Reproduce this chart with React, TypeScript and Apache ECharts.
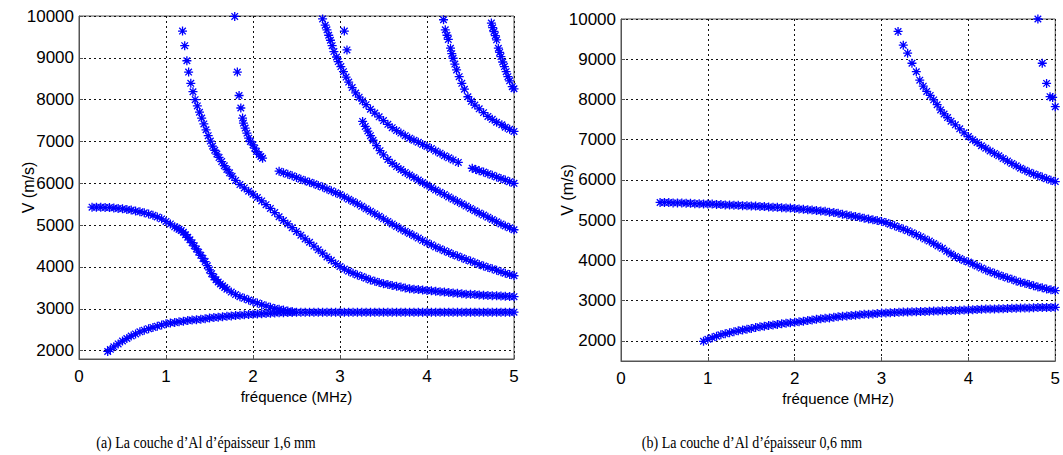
import { useEffect, useRef } from "react";
import * as echarts from "echarts";

// ---------- (a) 1,6 mm ----------
const a_mode1: [number, number][] = [[0.33,1980],[0.36,2030],[0.40,2090],[0.45,2160],[0.50,2230],[0.55,2290],[0.60,2350],[0.65,2400],[0.70,2450],[0.75,2490],[0.80,2525],[0.85,2555],[0.90,2585],[0.95,2610],[1.00,2640],[1.05,2660],[1.10,2675],[1.15,2690],[1.20,2705],[1.25,2720],[1.30,2730],[1.35,2740],[1.40,2752],[1.45,2765],[1.50,2780],[1.55,2790],[1.60,2800],[1.65,2810],[1.70,2820],[1.75,2830],[1.80,2840],[1.85,2848],[1.90,2855],[1.95,2862],[2.00,2870],[2.05,2875],[2.10,2880],[2.15,2888],[2.20,2895],[2.25,2900],[2.30,2905],[2.35,2908],[2.40,2910],[2.45,2912],[2.50,2915],[2.55,2915],[2.60,2915],[2.65,2918],[2.70,2918],[2.75,2918],[2.80,2920],[2.85,2920],[2.90,2920],[2.95,2920],[3.00,2920],[3.05,2920],[3.10,2920],[3.15,2920],[3.20,2920],[3.25,2920],[3.30,2920],[3.35,2920],[3.40,2920],[3.45,2920],[3.50,2920],[3.55,2920],[3.60,2920],[3.65,2920],[3.70,2920],[3.75,2920],[3.80,2920],[3.85,2920],[3.90,2920],[3.95,2920],[4.00,2920],[4.05,2920],[4.10,2920],[4.15,2920],[4.20,2920],[4.25,2920],[4.30,2920],[4.35,2920],[4.40,2920],[4.45,2920],[4.50,2920],[4.55,2920],[4.60,2920],[4.65,2920],[4.70,2920],[4.75,2920],[4.80,2920],[4.85,2920],[4.90,2920],[4.95,2920],[5.00,2920]];
const a_mode2: [number, number][] = [[0.15,5430],[0.20,5430],[0.25,5430],[0.30,5420],[0.35,5420],[0.40,5410],[0.45,5400],[0.50,5390],[0.55,5375],[0.60,5360],[0.65,5340],[0.70,5320],[0.75,5295],[0.80,5265],[0.85,5235],[0.90,5195],[0.95,5150],[1.00,5090],[1.05,5030],[1.10,4960],[1.125,4930],[1.15,4900],[1.175,4870],[1.20,4830],[1.225,4770],[1.25,4710],[1.275,4650],[1.30,4580],[1.325,4505],[1.35,4430],[1.375,4355],[1.40,4280],[1.425,4205],[1.45,4130],[1.475,4030],[1.50,3930],[1.525,3840],[1.55,3760],[1.575,3695],[1.60,3640],[1.625,3595],[1.65,3550],[1.675,3510],[1.70,3470],[1.75,3400],[1.80,3340],[1.85,3290],[1.90,3250],[1.95,3210],[2.00,3170],[2.05,3140],[2.10,3100],[2.15,3070],[2.20,3040],[2.25,3010],[2.30,2990],[2.35,2970],[2.40,2950],[2.45,2935]];
const a_mode3: [number, number][] = [[1.19,9640],[1.215,9290],[1.24,8930],[1.26,8660],[1.285,8390],[1.31,8190],[1.335,8000],[1.36,7850],[1.385,7700],[1.41,7560],[1.435,7420],[1.46,7280],[1.485,7140],[1.51,7010],[1.535,6890],[1.56,6790],[1.585,6700],[1.61,6620],[1.64,6520],[1.67,6420],[1.70,6330],[1.73,6250],[1.76,6170],[1.80,6070],[1.85,5970],[1.90,5890],[1.95,5810],[2.00,5740],[2.05,5660],[2.10,5580],[2.15,5490],[2.20,5400],[2.25,5300],[2.30,5200],[2.35,5110],[2.40,5030],[2.45,4940],[2.50,4850],[2.55,4760],[2.60,4670],[2.65,4590],[2.70,4500],[2.75,4410],[2.80,4330],[2.85,4240],[2.90,4160],[2.95,4080],[3.00,4010],[3.05,3950],[3.10,3900],[3.15,3850],[3.20,3810],[3.25,3770],[3.30,3730],[3.35,3690],[3.40,3660],[3.45,3630],[3.50,3600],[3.55,3580],[3.60,3560],[3.65,3540],[3.70,3520],[3.75,3500],[3.80,3480],[3.85,3470],[3.90,3460],[3.95,3450],[4.00,3440],[4.05,3430],[4.10,3420],[4.15,3410],[4.20,3400],[4.25,3390],[4.30,3380],[4.35,3370],[4.40,3360],[4.45,3350],[4.50,3345],[4.55,3340],[4.60,3330],[4.65,3325],[4.70,3320],[4.75,3315],[4.80,3310],[4.85,3305],[4.90,3300],[4.95,3295],[5.00,3290]];
const a_mode4: [number, number][] = [[2.30,6290],[2.35,6250],[2.40,6215],[2.45,6180],[2.50,6140],[2.55,6100],[2.60,6060],[2.65,6025],[2.70,5990],[2.75,5950],[2.80,5910],[2.85,5865],[2.90,5820],[2.95,5775],[3.00,5730],[3.05,5675],[3.10,5620],[3.15,5565],[3.20,5510],[3.25,5450],[3.30,5390],[3.35,5330],[3.40,5270],[3.45,5210],[3.50,5150],[3.55,5090],[3.60,5030],[3.65,4970],[3.70,4910],[3.75,4855],[3.80,4800],[3.85,4745],[3.90,4690],[3.95,4635],[4.00,4580],[4.05,4530],[4.10,4480],[4.15,4435],[4.20,4390],[4.25,4345],[4.30,4300],[4.35,4260],[4.40,4220],[4.45,4180],[4.50,4140],[4.55,4100],[4.60,4060],[4.65,4025],[4.70,3990],[4.75,3955],[4.80,3920],[4.85,3885],[4.90,3850],[4.95,3820],[5.00,3790]];
const a_mode5: [number, number][] = [[3.26,7480],[3.29,7360],[3.32,7250],[3.35,7140],[3.38,7030],[3.42,6900],[3.46,6780],[3.50,6680],[3.55,6570],[3.60,6480],[3.65,6400],[3.70,6330],[3.75,6260],[3.80,6200],[3.85,6140],[3.90,6080],[3.95,6020],[4.00,5960],[4.05,5900],[4.10,5840],[4.15,5785],[4.20,5730],[4.25,5675],[4.30,5620],[4.35,5565],[4.40,5510],[4.45,5455],[4.50,5400],[4.55,5345],[4.60,5290],[4.65,5240],[4.70,5190],[4.75,5135],[4.80,5080],[4.85,5030],[4.90,4980],[4.95,4935],[5.00,4890]];
const a_mode6a: [number, number][] = [[2.80,9930],[2.83,9780],[2.85,9670],[2.87,9540],[2.89,9420],[2.91,9290],[2.93,9150],[2.96,9020],[2.98,8910],[3.01,8790],[3.04,8670],[3.07,8540],[3.10,8420],[3.14,8290],[3.18,8160],[3.22,8060],[3.26,7970],[3.30,7880],[3.35,7770],[3.40,7680],[3.45,7590],[3.50,7500],[3.55,7410],[3.60,7330],[3.65,7260],[3.70,7200],[3.75,7140],[3.80,7080],[3.85,7030],[3.90,6980],[3.95,6930],[4.00,6880],[4.05,6830],[4.10,6770],[4.15,6720],[4.20,6660],[4.25,6610],[4.30,6560],[4.36,6500]];
const a_mode6b: [number, number][] = [[4.52,6360],[4.56,6330],[4.60,6300],[4.65,6270],[4.70,6230],[4.75,6190],[4.80,6150],[4.85,6115],[4.90,6080],[4.95,6040],[5.00,6000]];
const a_mode7: [number, number][] = [[4.19,9910],[4.21,9670],[4.23,9540],[4.245,9440],[4.27,9230],[4.285,9100],[4.30,8990],[4.32,8850],[4.34,8710],[4.37,8550],[4.40,8390],[4.43,8250],[4.47,8070],[4.51,7960],[4.55,7870],[4.60,7780],[4.65,7690],[4.70,7600],[4.75,7530],[4.80,7460],[4.86,7400],[4.90,7340],[4.95,7290],[5.00,7240]];
const a_mode8: [number, number][] = [[4.74,9830],[4.755,9720],[4.77,9630],[4.785,9530],[4.80,9430],[4.82,9230],[4.835,9130],[4.85,9030],[4.87,8900],[4.89,8790],[4.91,8670],[4.93,8550],[4.95,8450],[4.98,8310],[5.00,8260]];
const a_mode9: [number, number][] = [[1.79,9990],[1.82,8660],[1.84,8100],[1.86,7800],[1.88,7560],[1.89,7440],[1.91,7320],[1.93,7200],[1.95,7080],[1.97,7000],[2.00,6920],[2.02,6840],[2.04,6760],[2.07,6690],[2.09,6640],[2.11,6600]];
const a_mode10: [number, number][] = [[3.05,9640],[3.08,9190]];

// ---------- (b) 0,6 mm ----------
const b_mode1: [number, number][] = [[0.95,1990],[1.00,2040],[1.05,2080],[1.10,2115],[1.15,2150],[1.20,2180],[1.25,2205],[1.30,2230],[1.35,2250],[1.40,2270],[1.45,2290],[1.50,2310],[1.55,2330],[1.60,2350],[1.65,2365],[1.70,2380],[1.75,2395],[1.80,2410],[1.85,2425],[1.90,2440],[1.95,2450],[2.00,2460],[2.05,2475],[2.10,2490],[2.15,2505],[2.20,2520],[2.25,2535],[2.30,2550],[2.35,2560],[2.40,2570],[2.45,2585],[2.50,2600],[2.55,2610],[2.60,2620],[2.65,2630],[2.70,2640],[2.75,2650],[2.80,2660],[2.85,2665],[2.90,2670],[2.95,2680],[3.00,2690],[3.05,2695],[3.10,2700],[3.15,2705],[3.20,2710],[3.25,2715],[3.30,2720],[3.35,2722],[3.40,2725],[3.45,2728],[3.50,2730],[3.55,2735],[3.60,2740],[3.65,2745],[3.70,2750],[3.75,2752],[3.80,2755],[3.85,2758],[3.90,2760],[3.95,2765],[4.00,2770],[4.05,2775],[4.10,2780],[4.15,2785],[4.20,2790],[4.25,2792],[4.30,2795],[4.35,2798],[4.40,2800],[4.45,2805],[4.50,2810],[4.55,2812],[4.60,2815],[4.65,2818],[4.70,2820],[4.75,2825],[4.80,2830],[4.85,2830],[4.90,2830],[4.95,2832],[5.00,2835]];
const b_mode2: [number, number][] = [[0.45,5440],[0.50,5440],[0.55,5440],[0.60,5430],[0.65,5430],[0.70,5430],[0.75,5420],[0.80,5420],[0.85,5410],[0.90,5410],[0.95,5400],[1.00,5400],[1.05,5400],[1.10,5390],[1.15,5390],[1.20,5380],[1.25,5380],[1.30,5370],[1.35,5370],[1.40,5360],[1.45,5360],[1.50,5350],[1.55,5350],[1.60,5340],[1.65,5340],[1.70,5330],[1.75,5320],[1.80,5320],[1.85,5310],[1.90,5300],[1.95,5300],[2.00,5290],[2.05,5280],[2.10,5270],[2.15,5260],[2.20,5250],[2.25,5240],[2.30,5230],[2.35,5220],[2.40,5200],[2.45,5190],[2.50,5170],[2.55,5150],[2.60,5130],[2.65,5110],[2.70,5090],[2.75,5070],[2.80,5050],[2.85,5030],[2.90,5010],[2.95,4990],[3.00,4970],[3.05,4940],[3.10,4900],[3.15,4860],[3.20,4820],[3.25,4780],[3.30,4740],[3.35,4690],[3.40,4640],[3.45,4590],[3.50,4530],[3.55,4480],[3.60,4420],[3.65,4360],[3.70,4300],[3.75,4230],[3.80,4160],[3.85,4100],[3.90,4050],[3.95,4000],[4.00,3960],[4.05,3910],[4.10,3860],[4.15,3810],[4.20,3760],[4.25,3720],[4.30,3680],[4.35,3640],[4.40,3600],[4.45,3560],[4.50,3530],[4.55,3490],[4.60,3460],[4.65,3430],[4.70,3400],[4.75,3370],[4.80,3340],[4.85,3320],[4.90,3290],[4.95,3270],[5.00,3250]];
const b_mode3: [number, number][] = [[3.19,9690],[3.25,9350],[3.30,9150],[3.35,8900],[3.40,8690],[3.44,8480],[3.48,8330],[3.52,8200],[3.56,8100],[3.60,7990],[3.64,7870],[3.68,7740],[3.72,7640],[3.76,7550],[3.80,7460],[3.85,7370],[3.90,7270],[3.95,7170],[4.00,7080],[4.05,7000],[4.10,6930],[4.15,6850],[4.20,6790],[4.25,6720],[4.30,6660],[4.35,6600],[4.40,6530],[4.45,6470],[4.50,6410],[4.55,6350],[4.60,6290],[4.65,6240],[4.70,6190],[4.75,6150],[4.80,6110],[4.85,6070],[4.90,6030],[4.95,5990],[5.00,5960]];
const b_mode4: [number, number][] = [[4.80,10000],[4.85,8900],[4.90,8400],[4.94,8070],[4.97,8050],[5.00,7820]];

const xTicks = [0, 1, 2, 3, 4, 5];
const captionA = "(a) La couche d\u2019Al d\u2019épaisseur 1,6 mm";
const captionB = "(b) La couche d\u2019Al d\u2019épaisseur 0,6 mm";
const xName = "fréquence (MHz)";
const yName = "V (m/s)";

const STAR = "path://M0,-10L0,10M-10,0L10,0M-7.3,-7.3L7.3,7.3M-7.3,7.3L7.3,-7.3";
const SANS = '"Liberation Sans", Arial, sans-serif';
const SERIF = '14px "Liberation Serif", "Times New Roman", serif';

function makeX(gridIndex: number) {
  return {
    gridIndex,
    type: "value",
    min: xTicks[0],
    max: xTicks[xTicks.length - 1],
    interval: 1,
    name: xName,
    nameLocation: "middle",
    nameGap: 30,
    nameMoveOverlap: false,
    nameTextStyle: { color: "#000", fontFamily: SANS, fontSize: 15 },
    axisLine: { show: true, onZero: false, lineStyle: { color: "#555", width: 1 } },
    axisTick: { show: true, inside: true, length: 4, lineStyle: { color: "#555" } },
    axisLabel: { color: "#000", fontFamily: SANS, fontSize: 17, margin: 9, formatter: (v: number) => String(v) },
    splitLine: { show: true, lineStyle: { color: "#111", width: 1, type: [2, 3] } },
  };
}

function makeY(gridIndex: number, min: number, gap: number) {
  return {
    gridIndex,
    type: "value",
    min,
    max: 10000,
    splitNumber: 8,
    name: yName,
    nameLocation: "middle",
    nameGap: gap,
    nameMoveOverlap: false,
    nameTextStyle: { color: "#000", fontFamily: SANS, fontSize: 16 },
    axisLine: { show: true, onZero: false, lineStyle: { color: "#555", width: 1 } },
    axisTick: { show: true, inside: true, length: 4, lineStyle: { color: "#555" } },
    axisLabel: { color: "#000", fontFamily: SANS, fontSize: 17, margin: 5, showMinLabel: false, formatter: (v: number) => String(v) },
    splitLine: { show: true, lineStyle: { color: "#111", width: 1, type: [2, 3] } },
  };
}

function sc(data: [number, number][], idx: number) {
  return {
    type: "scatter",
    xAxisIndex: idx,
    yAxisIndex: idx,
    data,
    symbol: STAR,
    symbolSize: 9,
    itemStyle: { color: "rgba(0,0,255,0)", borderColor: "#0000ff", borderWidth: 1.3, opacity: 1 },
    silent: true,
  };
}

export default function App() {
  const ref = useRef<HTMLDivElement>(null);
  useEffect(() => {
    if (!ref.current) return;
    const chart = echarts.init(ref.current, null, { renderer: "svg" });
    const left = [a_mode1, a_mode2, a_mode3, a_mode4, a_mode5, a_mode6a, a_mode6b, a_mode7, a_mode8, a_mode9, a_mode10];
    const right = [b_mode1, b_mode2, b_mode3, b_mode4];
    chart.setOption({
      animation: false,
      backgroundColor: "#fff",
      grid: [
        { left: 79, top: 16, width: 435, height: 343, show: true, borderColor: "#555", borderWidth: 1, backgroundColor: "#fff" },
        { left: 621, top: 19, width: 435, height: 342, show: true, borderColor: "#555", borderWidth: 1, backgroundColor: "#fff" },
      ],
      xAxis: [makeX(0), makeX(1)],
      yAxis: [makeY(0, 1800, 43), makeY(1, 1500, 46)],
      series: [...left.map((d) => sc(d, 0)), ...right.map((d) => sc(d, 1))],
      graphic: [
        { type: "text", x: 206, y: 443, scaleY: 1.15, style: { text: captionA, fill: "#000", font: SERIF, align: "center", verticalAlign: "middle" } },
        { type: "text", x: 752, y: 443, scaleY: 1.15, style: { text: captionB, fill: "#000", font: SERIF, align: "center", verticalAlign: "middle" } },
      ],
    });
    return () => chart.dispose();
  }, []);
  return <div ref={ref} style={{ position: "fixed", left: 0, top: 0, width: 1063, height: 455 }} />;
}
